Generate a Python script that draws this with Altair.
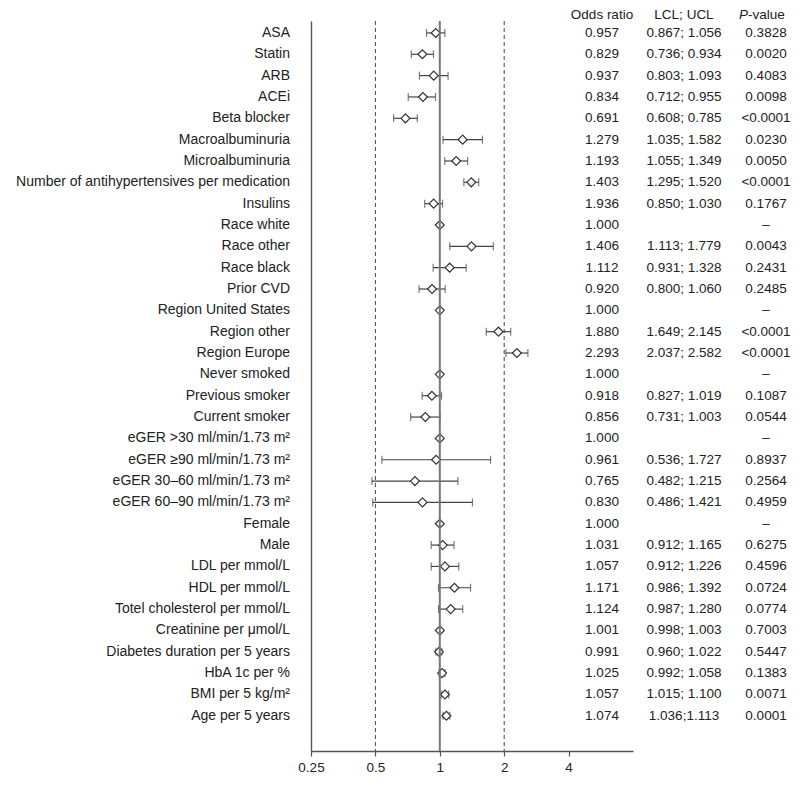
import altair as alt
import pandas as pd

labels = [
    "ASA", "Statin", "ARB", "ACEi", "Beta blocker", "Macroalbuminuria",
    "Microalbuminuria", "Number of antihypertensives per medication", "Insulins",
    "Race white", "Race other", "Race black", "Prior CVD", "Region United States",
    "Region other", "Region Europe", "Never smoked", "Previous smoker",
    "Current smoker", "eGER >30 ml/min/1.73 m²", "eGER ≥90 ml/min/1.73 m²",
    "eGER 30–60 ml/min/1.73 m²", "eGER 60–90 ml/min/1.73 m²", "Female", "Male",
    "LDL per mmol/L", "HDL per mmol/L", "Totel cholesterol per mmol/L",
    "Creatinine per μmol/L", "Diabetes duration per 5 years", "HbA 1c per %",
    "BMI per 5 kg/m²", "Age per 5 years",
]
or_text = [
    "0.957", "0.829", "0.937", "0.834", "0.691", "1.279", "1.193", "1.403", "1.936",
    "1.000", "1.406", "1.112", "0.920", "1.000", "1.880", "2.293", "1.000", "0.918",
    "0.856", "1.000", "0.961", "0.765", "0.830", "1.000", "1.031", "1.057", "1.171",
    "1.124", "1.001", "0.991", "1.025", "1.057", "1.074",
]
ci_text = [
    "0.867; 1.056", "0.736; 0.934", "0.803; 1.093", "0.712; 0.955", "0.608; 0.785",
    "1.035; 1.582", "1.055; 1.349", "1.295; 1.520", "0.850; 1.030", "",
    "1.113; 1.779", "0.931; 1.328", "0.800; 1.060", "", "1.649; 2.145",
    "2.037; 2.582", "", "0.827; 1.019", "0.731; 1.003", "", "0.536; 1.727",
    "0.482; 1.215", "0.486; 1.421", "", "0.912; 1.165", "0.912; 1.226",
    "0.986; 1.392", "0.987; 1.280", "0.998; 1.003", "0.960; 1.022",
    "0.992; 1.058", "1.015; 1.100", "1.036;1.113",
]
p_text = [
    "0.3828", "0.0020", "0.4083", "0.0098", "<0.0001", "0.0230", "0.0050", "<0.0001",
    "0.1767", "–", "0.0043", "0.2431", "0.2485", "–", "<0.0001", "<0.0001", "–",
    "0.1087", "0.0544", "–", "0.8937", "0.2564", "0.4959", "–", "0.6275", "0.4596",
    "0.0724", "0.0774", "0.7003", "0.5447", "0.1383", "0.0071", "0.0001",
]
# plotted point estimates (Insulins is drawn near 0.936 in the figure)
or_val = [
    0.957, 0.829, 0.937, 0.834, 0.691, 1.279, 1.193, 1.403, 0.936, 1.000, 1.406,
    1.112, 0.920, 1.000, 1.880, 2.293, 1.000, 0.918, 0.856, 1.000, 0.961, 0.765,
    0.830, 1.000, 1.031, 1.057, 1.171, 1.124, 1.001, 0.991, 1.025, 1.057, 1.074,
]
lcl = [
    0.867, 0.736, 0.803, 0.712, 0.608, 1.035, 1.055, 1.295, 0.850, None, 1.113,
    0.931, 0.800, None, 1.649, 2.037, None, 0.827, 0.731, None, 0.536, 0.482,
    0.486, None, 0.912, 0.912, 0.986, 0.987, 0.998, 0.960, 0.992, 1.015, 1.036,
]
ucl = [
    1.056, 0.934, 1.093, 0.955, 0.785, 1.582, 1.349, 1.520, 1.030, None, 1.779,
    1.328, 1.060, None, 2.145, 2.582, None, 1.019, 1.003, None, 1.727, 1.215,
    1.421, None, 1.165, 1.226, 1.392, 1.280, 1.003, 1.022, 1.058, 1.100, 1.113,
]
x_ticks = [0.25, 0.5, 1, 2, 4]
ref_dashed = [0.5, 2]
ref_solid = [1]

df = pd.DataFrame({
    "label": labels, "or_text": or_text, "ci_text": ci_text, "p_text": p_text,
    "or": or_val, "lcl": lcl, "ucl": ucl,
})
df["row"] = list(range(len(df)))
df_ci = df.dropna(subset=["lcl", "ucl"])

FONT = "Liberation Sans"
TXT = "#222222"
LINE = "#555555"
LAB_FS = 14
COL_FS = 13.5

x_scale = alt.Scale(type="log", domain=[0.25, 8], nice=False)
y_scale = alt.Scale(domain=[-0.56, 33.65], reverse=True, nice=False, zero=False)
x_axis = alt.Axis(values=x_ticks, format="~g", grid=False, tickSize=5, tickColor=LINE,
                  tickWidth=1.2, domainColor=LINE, domainWidth=1.3, labelFont=FONT,
                  labelFontSize=13.5, labelColor=TXT, labelPadding=4, labelFlush=False,
                  labelOverlap=False, title=None)
y_axis = alt.Axis(domain=True, labels=False, ticks=False, grid=False, title=None,
                  domainColor=LINE, domainWidth=1.4)


def X(f):
    return alt.X(f, type="quantitative", scale=x_scale, axis=x_axis, title=None)


def Y(f):
    return alt.Y(f, type="quantitative", scale=y_scale, axis=y_axis, title=None)


dashed = alt.Chart(pd.DataFrame({"v": ref_dashed})).mark_rule(
    color="#444444", strokeWidth=1, strokeDash=[4, 3]
).encode(x=X("v"))

solid = alt.Chart(pd.DataFrame({"v": ref_solid})).mark_rule(
    color="#777777", strokeWidth=2
).encode(x=X("v"))

ci = alt.Chart(df_ci).mark_rule(color="#444444", strokeWidth=1.2).encode(
    x=X("lcl"), x2="ucl", y=Y("row"))
cap_l = alt.Chart(df_ci).mark_tick(color="#444444", orient="vertical", size=8,
                                    thickness=1.2).encode(x=X("lcl"), y=Y("row"))
cap_u = alt.Chart(df_ci).mark_tick(color="#444444", orient="vertical", size=8,
                                    thickness=1.2).encode(x=X("ucl"), y=Y("row"))

pts = alt.Chart(df).mark_point(shape="diamond", size=80, filled=False, fill="white",
                               fillOpacity=1, color="#333333", strokeWidth=1.2,
                               opacity=1).encode(x=X("or"), y=Y("row"))


def col_text(field, xpos, align, fs):
    return alt.Chart(df).mark_text(font=FONT, fontSize=fs, color=TXT, align=align,
                                   baseline="middle").encode(
        x=alt.value(xpos), y=Y("row"), text=alt.Text(field, type="nominal"))


lab = col_text("label", -21, "right", LAB_FS)
c_or = col_text("or_text", 291, "center", COL_FS)
c_ci = col_text("ci_text", 373, "center", COL_FS)
c_p = col_text("p_text", 455, "center", COL_FS)

hdr_df = pd.DataFrame({"a": [0]})


def header(txt, xpos, align, style="normal"):
    return alt.Chart(hdr_df).mark_text(text=txt, font=FONT, fontSize=COL_FS, color=TXT,
                                       align=align, baseline="middle",
                                       fontStyle=style).encode(
        x=alt.value(xpos), y=alt.value(-6))


h1 = header("Odds ratio", 291, "center")
h2 = header("LCL; UCL", 373, "center")
h3a = header("P", 437, "right", "italic")
h3b = header("-value", 437, "left")

chart = alt.layer(
    dashed, ci, cap_l, cap_u, pts, solid, lab, c_or, c_ci, c_p, h1, h2, h3a, h3b
).properties(
    width=322, height=730,
    padding={"left": 303, "top": 13, "right": 159, "bottom": 26},
    autosize=alt.AutoSizeParams(type="none"),
).configure_view(stroke=None)

chart.save("out.html", embed_options={"renderer": "svg", "actions": False})
